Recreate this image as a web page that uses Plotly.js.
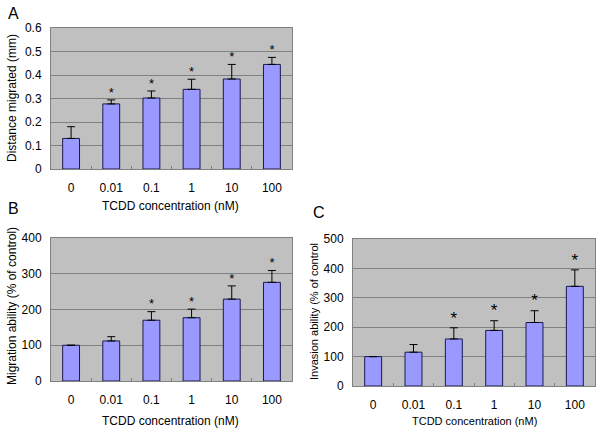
<!DOCTYPE html>
<html>
<head>
<meta charset="utf-8">
<script src="https://cdn.plot.ly/plotly-3.0.1.min.js"></script>
<style>
  body { margin: 0; background: #fff; }
  #chart { width: 600px; height: 431px; }
</style>
</head>
<body>
<div id="chart"></div>
<script>
// categories (TCDD concentration, nM)
var doses = ['0', '0.01', '0.1', '1', '10', '100'];

// panel A: distance migrated (mm)
var distMean = [0.13, 0.277, 0.302, 0.339, 0.383, 0.445];
var distTop = [0.18, 0.294, 0.332, 0.382, 0.445, 0.475];
var distSig = [false, true, true, true, true, true];

// panel B: migration ability (% of control)
var migMean = [100, 112, 170, 177, 229, 276];
var migTop = [100, 124, 194, 201, 266, 309];
var migSig = [false, false, true, true, true, true];

// panel C: invasion ability (% of control)
var invMean = [100, 115, 160, 189, 216, 339];
var invTop = [100, 141, 198, 222, 256, 395];
var invSig = [false, false, true, true, true, true];

var barColour = '#9999ff';
var font = 'Liberation Sans, Arial, sans-serif';

// build bar + error + star traces for one panel
function panelTraces(mean, top, sig, xa, ya, starSize) {
  var plus = mean.map(function (m, i) { return top[i] - m; });
  var bars = {
    type: 'bar', x: doses, y: mean, xaxis: xa, yaxis: ya,
    marker: { color: barColour, line: { color: '#1a1a4d', width: 1 } },
    error_y: { type: 'data', symmetric: false, array: plus,
               arrayminus: mean.map(function () { return 0; }),
               color: '#000', thickness: 1, width: 4 },
    hoverinfo: 'skip'
  };
  var sx = [], sy = [];
  for (var i = 0; i < doses.length; i++) {
    if (sig[i]) { sx.push(doses[i]); sy.push(top[i]); }
  }
  var stars = {
    type: 'scatter', mode: 'text', x: sx, y: sy, xaxis: xa, yaxis: ya,
    text: sx.map(function () { return '*'; }),
    textposition: 'top center',
    textfont: { family: font, size: starSize, color: '#000' },
    hoverinfo: 'skip'
  };
  return [bars, stars];
}

var data = []
  .concat(panelTraces(distMean, distTop, distSig, 'x', 'y', 13))
  .concat(panelTraces(migMean, migTop, migSig, 'x2', 'y2', 13))
  .concat(panelTraces(invMean, invTop, invSig, 'x3', 'y3', 17));

function xAxis(domain, anchor) {
  return {
    domain: domain, anchor: anchor, type: 'category',
    showline: true, linecolor: '#808080', linewidth: 1, mirror: true,
    ticks: 'inside', tickson: 'boundaries', ticklen: 3, tickcolor: '#808080',
    ticklabelstandoff: 8,
    tickfont: { family: font, size: 12, color: '#000' },
    showgrid: false, fixedrange: true
  };
}
function yAxis(domain, anchor, range, dtick) {
  return {
    domain: domain, anchor: anchor, range: range, dtick: dtick,
    showline: true, linecolor: '#808080', linewidth: 1, mirror: true,
    showgrid: true, gridcolor: '#808080', gridwidth: 1,
    zeroline: false, ticks: '', ticklabelstandoff: 6,
    tickfont: { family: font, size: 12, color: '#000' },
    fixedrange: true
  };
}

var H = 431, W = 600;
function yd(top, bottom) { return [1 - bottom / H, 1 - top / H]; }
function xd(left, right) { return [left / W, right / W]; }

// text placed in paper pixels, centred on (x, y)
function note(t, x, y, angle, size) {
  return { text: t, xref: 'paper', yref: 'paper', x: x / W, y: 1 - y / H,
           xanchor: 'center', yanchor: 'middle', textangle: angle || 0,
           showarrow: false, font: { family: font, size: size || 12, color: '#000' } };
}

var layout = {
  width: W, height: H,
  margin: { l: 0, r: 0, t: 0, b: 0 },
  paper_bgcolor: '#fff',
  plot_bgcolor: '#c0c0c0',
  showlegend: false,
  bargap: 0.58,
  font: { family: font, size: 12, color: '#000' },
  xaxis: xAxis(xd(51, 292), 'y'),
  yaxis: yAxis(yd(28, 169), 'x', [0, 0.6], 0.1),
  xaxis2: xAxis(xd(51, 292), 'y2'),
  yaxis2: yAxis(yd(238, 381), 'x2', [0, 400], 100),
  xaxis3: xAxis(xd(353, 595), 'y3'),
  yaxis3: yAxis(yd(239, 386), 'x3', [0, 500], 100),
  annotations: [
    note('A', 13, 14, 0, 16),
    note('B', 13, 209, 0, 16),
    note('C', 319, 212, 0, 16),
    note('TCDD concentration (nM)', 171, 206),
    note('TCDD concentration (nM)', 171, 421),
    note('TCDD concentration (nM)', 474, 421, 0, 11),
    note('Distance migrated (mm)', 12, 98, -90),
    note('Migration ability (% of control)', 12, 306, -90),
    note('Invasion ability (% of control', 314, 312, -90, 11)
  ]
};

Plotly.newPlot('chart', data, layout, { displayModeBar: false, staticPlot: true });
</script>
</body>
</html>
